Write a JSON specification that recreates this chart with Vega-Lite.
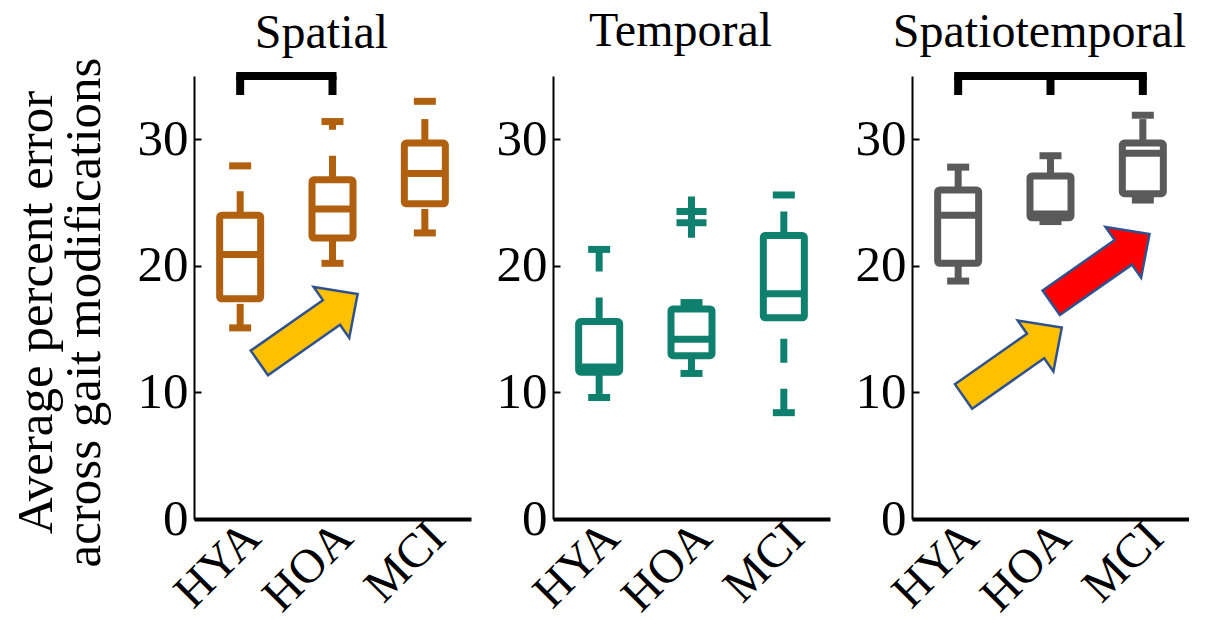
{
  "$schema": "https://vega.github.io/schema/vega-lite/v6.json",
  "background": "white",
  "padding": {"left": 9, "top": 8, "right": 0, "bottom": 0},
  "datasets": {
    "boxes": [
      {"panel": "Spatial", "group": "HYA", "lower": 15.1, "q1": 17.4, "median": 20.9, "q3": 24.0, "upper": 27.9},
      {"panel": "Spatial", "group": "HOA", "lower": 20.2, "q1": 22.2, "median": 24.5, "q3": 26.8, "upper": 31.4},
      {"panel": "Spatial", "group": "MCI", "lower": 22.6, "q1": 24.9, "median": 27.3, "q3": 29.7, "upper": 33.0},
      {"panel": "Temporal", "group": "HYA", "lower": 9.6, "q1": 11.6, "median": 12.0, "q3": 15.6, "upper": 21.3},
      {"panel": "Temporal", "group": "HOA", "lower": 11.5, "q1": 12.9, "median": 14.2, "q3": 16.6, "upper": 17.1},
      {"panel": "Temporal", "group": "MCI", "lower": 8.4, "q1": 15.9, "median": 17.8, "q3": 22.4, "upper": 25.6},
      {"panel": "Spatiotemporal", "group": "HYA", "lower": 18.8, "q1": 20.2, "median": 24.0, "q3": 26.0, "upper": 27.8},
      {"panel": "Spatiotemporal", "group": "HOA", "lower": 23.5, "q1": 23.8, "median": 24.1, "q3": 27.1, "upper": 28.7},
      {"panel": "Spatiotemporal", "group": "MCI", "lower": 25.2, "q1": 25.7, "median": 28.9, "q3": 29.7, "upper": 31.9}
    ],
    "outliers": [
      {"panel": "Temporal", "group": "HOA", "value": 24.3},
      {"panel": "Temporal", "group": "HOA", "value": 23.4}
    ],
    "brackets": [
      {"panel": "Spatial", "from": "HYA", "to": "HOA", "level": 35},
      {"panel": "Spatiotemporal", "from": "HYA", "to": "MCI", "level": 35}
    ],
    "legs": [
      {"panel": "Spatial", "group": "HYA", "bottom": 33.5, "level": 35},
      {"panel": "Spatial", "group": "HOA", "bottom": 33.5, "level": 35},
      {"panel": "Spatiotemporal", "group": "HYA", "bottom": 33.5, "level": 35},
      {"panel": "Spatiotemporal", "group": "HOA", "bottom": 33.5, "level": 35},
      {"panel": "Spatiotemporal", "group": "MCI", "bottom": 33.5, "level": 35}
    ],
    "arrows": [
      {"panel": "Spatial", "pos": 1.24, "value": 15.05, "step": "first"},
      {"panel": "Spatiotemporal", "pos": 1.09, "value": 12.4, "step": "first"},
      {"panel": "Spatiotemporal", "pos": 2.04, "value": 19.8, "step": "second"}
    ]
  },
  "hconcat": [
    {
      "width": 277, "height": 443,
      "title": {"text": "Spatial", "dx": -11, "offset": -1},
      "resolve": {"scale": {"x": "independent"}},
      "layer": [
        {"data": {"name": "boxes"}, "transform": [{"filter": "datum.panel === 'Spatial'"}],
         "mark": {"type": "rule", "color": "#B0600F", "strokeWidth": 7, "strokeDash": [24, 26], "strokeCap": "butt"},
         "encoding": {
           "x": {"field": "group", "type": "nominal", "scale": {"domain": ["HYA", "HOA", "MCI"], "paddingInner": 0, "paddingOuter": 0}, "title": null},
           "y": {"field": "q3", "type": "quantitative", "scale": {"domain": [0, 35], "nice": false}, "title": ["Average percent error", "across gait modifications"]},
           "y2": {"field": "upper"}}},
        {"data": {"name": "boxes"}, "transform": [{"filter": "datum.panel === 'Spatial'"}],
         "mark": {"type": "rule", "color": "#B0600F", "strokeWidth": 7, "strokeDash": [24, 26], "strokeCap": "butt"},
         "encoding": {
           "x": {"field": "group", "type": "nominal", "scale": {"domain": ["HYA", "HOA", "MCI"], "paddingInner": 0, "paddingOuter": 0}, "axis": null},
           "y": {"field": "lower", "type": "quantitative", "scale": {"domain": [0, 35], "nice": false}, "title": ["Average percent error", "across gait modifications"]},
           "y2": {"field": "q1"}}},
        {"data": {"name": "boxes"}, "transform": [{"filter": "datum.panel === 'Spatial'"}],
         "mark": {"type": "bar", "size": 41, "fill": "white", "stroke": "#B0600F", "strokeWidth": 7, "strokeJoin": "round", "cornerRadius": 2},
         "encoding": {
           "x": {"field": "group", "type": "nominal", "scale": {"domain": ["HYA", "HOA", "MCI"], "paddingInner": 0, "paddingOuter": 0}, "axis": null},
           "y": {"field": "q1", "type": "quantitative", "scale": {"domain": [0, 35], "nice": false}, "title": ["Average percent error", "across gait modifications"]},
           "y2": {"field": "q3"}}},
        {"data": {"name": "boxes"}, "transform": [{"filter": "datum.panel === 'Spatial'"}],
         "mark": {"type": "tick", "size": 41, "thickness": 7, "color": "#B0600F", "opacity": 1},
         "encoding": {
           "x": {"field": "group", "type": "nominal", "scale": {"domain": ["HYA", "HOA", "MCI"], "paddingInner": 0, "paddingOuter": 0}, "axis": null},
           "y": {"field": "median", "type": "quantitative", "scale": {"domain": [0, 35], "nice": false}, "title": ["Average percent error", "across gait modifications"]}}},
        {"data": {"name": "boxes"}, "transform": [{"filter": "datum.panel === 'Spatial'"}],
         "mark": {"type": "tick", "size": 22, "thickness": 7, "color": "#B0600F", "opacity": 1},
         "encoding": {
           "x": {"field": "group", "type": "nominal", "scale": {"domain": ["HYA", "HOA", "MCI"], "paddingInner": 0, "paddingOuter": 0}, "axis": null},
           "y": {"field": "upper", "type": "quantitative", "scale": {"domain": [0, 35], "nice": false}, "title": ["Average percent error", "across gait modifications"]}}},
        {"data": {"name": "boxes"}, "transform": [{"filter": "datum.panel === 'Spatial'"}],
         "mark": {"type": "tick", "size": 22, "thickness": 7, "color": "#B0600F", "opacity": 1},
         "encoding": {
           "x": {"field": "group", "type": "nominal", "scale": {"domain": ["HYA", "HOA", "MCI"], "paddingInner": 0, "paddingOuter": 0}, "axis": null},
           "y": {"field": "lower", "type": "quantitative", "scale": {"domain": [0, 35], "nice": false}, "title": ["Average percent error", "across gait modifications"]}}},
        {"data": {"name": "brackets"}, "transform": [{"filter": "datum.panel === 'Spatial'"}],
         "mark": {"type": "rule", "color": "black", "strokeWidth": 8, "strokeCap": "square"},
         "encoding": {
           "x": {"field": "from", "type": "nominal", "scale": {"domain": ["HYA", "HOA", "MCI"], "paddingInner": 0, "paddingOuter": 0}, "axis": null},
           "x2": {"field": "to"},
           "y": {"field": "level", "type": "quantitative", "scale": {"domain": [0, 35], "nice": false}, "title": ["Average percent error", "across gait modifications"]}}},
        {"data": {"name": "legs"}, "transform": [{"filter": "datum.panel === 'Spatial'"}],
         "mark": {"type": "rule", "color": "black", "strokeWidth": 8, "strokeCap": "butt"},
         "encoding": {
           "x": {"field": "group", "type": "nominal", "scale": {"domain": ["HYA", "HOA", "MCI"], "paddingInner": 0, "paddingOuter": 0}, "axis": null},
           "y": {"field": "bottom", "type": "quantitative", "scale": {"domain": [0, 35], "nice": false}, "title": ["Average percent error", "across gait modifications"]},
           "y2": {"field": "level"}}},
        {"data": {"name": "arrows"}, "transform": [{"filter": "datum.panel === 'Spatial'"}],
         "mark": {"type": "point", "shape": "M-1,-0.25L0.467,-0.25L0.467,-0.517L1,0L0.467,0.517L0.467,0.25L-1,0.25Z", "size": 14400, "angle": -35, "filled": true, "opacity": 1, "stroke": "#2F528F", "strokeWidth": 2.5, "strokeJoin": "miter"},
         "encoding": {
           "x": {"field": "pos", "type": "quantitative", "scale": {"domain": [0, 3], "nice": false, "zero": false}, "axis": null},
           "y": {"field": "value", "type": "quantitative", "scale": {"domain": [0, 35], "nice": false}, "title": ["Average percent error", "across gait modifications"]},
           "fill": {"field": "step", "type": "nominal", "scale": {"domain": ["first", "second"], "range": ["#FFC000", "#FF0000"]}, "legend": null}}}
      ]
    },
    {
      "width": 277, "height": 443,
      "title": {"text": "Temporal", "dx": -11, "offset": 20},
      "layer": [
        {"data": {"name": "boxes"}, "transform": [{"filter": "datum.panel === 'Temporal'"}],
         "mark": {"type": "rule", "color": "#0F806E", "strokeWidth": 7, "strokeDash": [24, 26], "strokeCap": "butt"},
         "encoding": {
           "x": {"field": "group", "type": "nominal", "scale": {"domain": ["HYA", "HOA", "MCI"], "paddingInner": 0, "paddingOuter": 0}, "title": null},
           "y": {"field": "q3", "type": "quantitative", "scale": {"domain": [0, 35], "nice": false}, "title": null},
           "y2": {"field": "upper"}}},
        {"data": {"name": "boxes"}, "transform": [{"filter": "datum.panel === 'Temporal'"}],
         "mark": {"type": "rule", "color": "#0F806E", "strokeWidth": 7, "strokeDash": [24, 26], "strokeCap": "butt"},
         "encoding": {
           "x": {"field": "group", "type": "nominal", "title": null},
           "y": {"field": "lower", "type": "quantitative", "title": null},
           "y2": {"field": "q1"}}},
        {"data": {"name": "boxes"}, "transform": [{"filter": "datum.panel === 'Temporal'"}],
         "mark": {"type": "bar", "size": 41, "fill": "white", "stroke": "#0F806E", "strokeWidth": 7, "strokeJoin": "round", "cornerRadius": 2},
         "encoding": {
           "x": {"field": "group", "type": "nominal", "title": null},
           "y": {"field": "q1", "type": "quantitative", "title": null},
           "y2": {"field": "q3"}}},
        {"data": {"name": "boxes"}, "transform": [{"filter": "datum.panel === 'Temporal'"}],
         "mark": {"type": "tick", "size": 41, "thickness": 7, "color": "#0F806E", "opacity": 1},
         "encoding": {
           "x": {"field": "group", "type": "nominal", "title": null},
           "y": {"field": "median", "type": "quantitative", "title": null}}},
        {"data": {"name": "boxes"}, "transform": [{"filter": "datum.panel === 'Temporal'"}],
         "mark": {"type": "tick", "size": 22, "thickness": 7, "color": "#0F806E", "opacity": 1},
         "encoding": {
           "x": {"field": "group", "type": "nominal", "title": null},
           "y": {"field": "upper", "type": "quantitative", "title": null}}},
        {"data": {"name": "boxes"}, "transform": [{"filter": "datum.panel === 'Temporal'"}],
         "mark": {"type": "tick", "size": 22, "thickness": 7, "color": "#0F806E", "opacity": 1},
         "encoding": {
           "x": {"field": "group", "type": "nominal", "title": null},
           "y": {"field": "lower", "type": "quantitative", "title": null}}},
        {"data": {"name": "outliers"}, "transform": [{"filter": "datum.panel === 'Temporal'"}],
         "mark": {"type": "point", "shape": "M-1,0H1M0,-1V1", "size": 900, "filled": false, "stroke": "#0F806E", "strokeWidth": 7, "strokeCap": "butt", "opacity": 1},
         "encoding": {
           "x": {"field": "group", "type": "nominal", "title": null},
           "y": {"field": "value", "type": "quantitative", "title": null}}}
      ]
    },
    {
      "width": 277, "height": 443,
      "title": {"text": "Spatiotemporal", "dx": -11, "offset": 13},
      "resolve": {"scale": {"x": "independent"}},
      "layer": [
        {"data": {"name": "boxes"}, "transform": [{"filter": "datum.panel === 'Spatiotemporal'"}],
         "mark": {"type": "rule", "color": "#5A5A5A", "strokeWidth": 7, "strokeDash": [24, 26], "strokeCap": "butt"},
         "encoding": {
           "x": {"field": "group", "type": "nominal", "scale": {"domain": ["HYA", "HOA", "MCI"], "paddingInner": 0, "paddingOuter": 0}, "title": null},
           "y": {"field": "q3", "type": "quantitative", "scale": {"domain": [0, 35], "nice": false}, "title": null},
           "y2": {"field": "upper"}}},
        {"data": {"name": "boxes"}, "transform": [{"filter": "datum.panel === 'Spatiotemporal'"}],
         "mark": {"type": "rule", "color": "#5A5A5A", "strokeWidth": 7, "strokeDash": [24, 26], "strokeCap": "butt"},
         "encoding": {
           "x": {"field": "group", "type": "nominal", "scale": {"domain": ["HYA", "HOA", "MCI"], "paddingInner": 0, "paddingOuter": 0}, "axis": null},
           "y": {"field": "lower", "type": "quantitative", "scale": {"domain": [0, 35], "nice": false}, "title": null},
           "y2": {"field": "q1"}}},
        {"data": {"name": "boxes"}, "transform": [{"filter": "datum.panel === 'Spatiotemporal'"}],
         "mark": {"type": "bar", "size": 41, "fill": "white", "stroke": "#5A5A5A", "strokeWidth": 7, "strokeJoin": "round", "cornerRadius": 2},
         "encoding": {
           "x": {"field": "group", "type": "nominal", "scale": {"domain": ["HYA", "HOA", "MCI"], "paddingInner": 0, "paddingOuter": 0}, "axis": null},
           "y": {"field": "q1", "type": "quantitative", "scale": {"domain": [0, 35], "nice": false}, "title": null},
           "y2": {"field": "q3"}}},
        {"data": {"name": "boxes"}, "transform": [{"filter": "datum.panel === 'Spatiotemporal'"}],
         "mark": {"type": "tick", "size": 41, "thickness": 7, "color": "#5A5A5A", "opacity": 1},
         "encoding": {
           "x": {"field": "group", "type": "nominal", "scale": {"domain": ["HYA", "HOA", "MCI"], "paddingInner": 0, "paddingOuter": 0}, "axis": null},
           "y": {"field": "median", "type": "quantitative", "scale": {"domain": [0, 35], "nice": false}, "title": null}}},
        {"data": {"name": "boxes"}, "transform": [{"filter": "datum.panel === 'Spatiotemporal'"}],
         "mark": {"type": "tick", "size": 22, "thickness": 7, "color": "#5A5A5A", "opacity": 1},
         "encoding": {
           "x": {"field": "group", "type": "nominal", "scale": {"domain": ["HYA", "HOA", "MCI"], "paddingInner": 0, "paddingOuter": 0}, "axis": null},
           "y": {"field": "upper", "type": "quantitative", "scale": {"domain": [0, 35], "nice": false}, "title": null}}},
        {"data": {"name": "boxes"}, "transform": [{"filter": "datum.panel === 'Spatiotemporal'"}],
         "mark": {"type": "tick", "size": 22, "thickness": 7, "color": "#5A5A5A", "opacity": 1},
         "encoding": {
           "x": {"field": "group", "type": "nominal", "scale": {"domain": ["HYA", "HOA", "MCI"], "paddingInner": 0, "paddingOuter": 0}, "axis": null},
           "y": {"field": "lower", "type": "quantitative", "scale": {"domain": [0, 35], "nice": false}, "title": null}}},
        {"data": {"name": "brackets"}, "transform": [{"filter": "datum.panel === 'Spatiotemporal'"}],
         "mark": {"type": "rule", "color": "black", "strokeWidth": 8, "strokeCap": "square"},
         "encoding": {
           "x": {"field": "from", "type": "nominal", "scale": {"domain": ["HYA", "HOA", "MCI"], "paddingInner": 0, "paddingOuter": 0}, "axis": null},
           "x2": {"field": "to"},
           "y": {"field": "level", "type": "quantitative", "scale": {"domain": [0, 35], "nice": false}, "title": null}}},
        {"data": {"name": "legs"}, "transform": [{"filter": "datum.panel === 'Spatiotemporal'"}],
         "mark": {"type": "rule", "color": "black", "strokeWidth": 8, "strokeCap": "butt"},
         "encoding": {
           "x": {"field": "group", "type": "nominal", "scale": {"domain": ["HYA", "HOA", "MCI"], "paddingInner": 0, "paddingOuter": 0}, "axis": null},
           "y": {"field": "bottom", "type": "quantitative", "scale": {"domain": [0, 35], "nice": false}, "title": null},
           "y2": {"field": "level"}}},
        {"data": {"name": "arrows"}, "transform": [{"filter": "datum.panel === 'Spatiotemporal'"}],
         "mark": {"type": "point", "shape": "M-1,-0.25L0.467,-0.25L0.467,-0.517L1,0L0.467,0.517L0.467,0.25L-1,0.25Z", "size": 14400, "angle": -35, "filled": true, "opacity": 1, "stroke": "#2F528F", "strokeWidth": 2.5, "strokeJoin": "miter"},
         "encoding": {
           "x": {"field": "pos", "type": "quantitative", "scale": {"domain": [0, 3], "nice": false, "zero": false}, "axis": null},
           "y": {"field": "value", "type": "quantitative", "scale": {"domain": [0, 35], "nice": false}, "title": null},
           "fill": {"field": "step", "type": "nominal", "scale": {"domain": ["first", "second"], "range": ["#FFC000", "#FF0000"]}, "legend": null}}}
      ]
    }
  ],
  "spacing": 25,
  "config": {
    "font": "Liberation Serif",
    "view": {"stroke": null},
    "axis": {
      "labelFont": "Liberation Serif", "labelFontSize": 48, "labelColor": "black",
      "domainColor": "black", "tickColor": "black", "grid": false,
      "titleFont": "Liberation Serif", "titleFontWeight": "normal", "titleColor": "black", "titleFontSize": 51
    },
    "axisX": {"labelAngle": -45, "ticks": false, "domainWidth": 4, "labelPadding": -6, "labelOffset": -4},
    "axisY": {"domainWidth": 2, "tickCount": 4, "tickSize": -7, "tickWidth": 2, "labelPadding": 13, "labelFontSize": 51, "titleLineHeight": 48, "titlePadding": 27, "titleY": 236},
    "title": {"font": "Liberation Serif", "fontSize": 48, "fontWeight": "normal", "color": "black", "frame": "group", "baseline": "alphabetic"}
  }
}
